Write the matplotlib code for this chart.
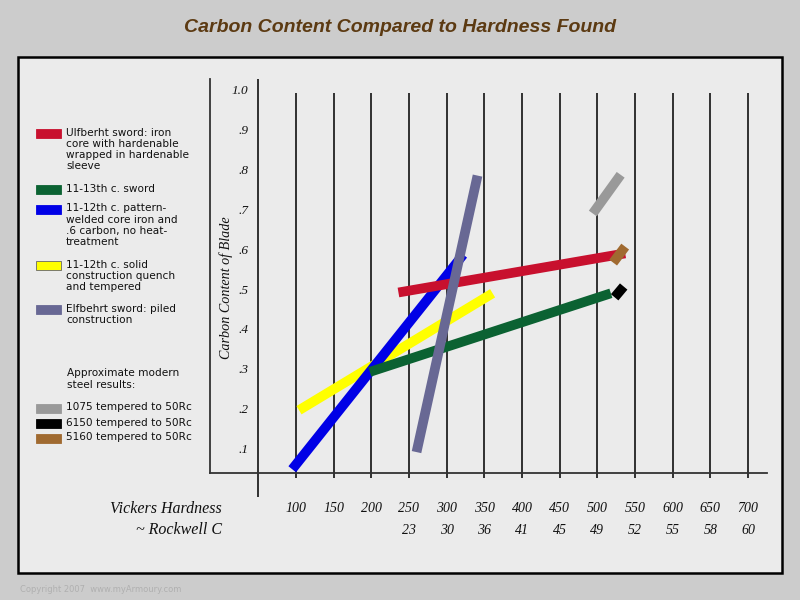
import matplotlib
matplotlib.use("Agg")
import matplotlib.pyplot as plt
from matplotlib.patches import Rectangle
from matplotlib.transforms import blended_transform_factory

# ---------------- data ----------------
vickers_ticks = [100, 150, 200, 250, 300, 350, 400, 450, 500, 550, 600, 650, 700]
rockwell_labels = ["", "", "", "23", "30", "36", "41", "45", "49", "52", "55", "58", "60"]
carbon_ticks = [0.1, 0.2, 0.3, 0.4, 0.5, 0.6, 0.7, 0.8, 0.9, 1.0]
carbon_labels = [".1", ".2", ".3", ".4", ".5", ".6", ".7", ".8", ".9", "1.0"]

series_names = [
    "Ulfberht sword: iron\ncore with hardenable\nwrapped in hardenable\nsleeve",
    "11-13th c. sword",
    "11-12th c. pattern-\nwelded core iron and\n.6 carbon, no heat-\ntreatment",
    "11-12th c. solid\nconstruction quench\nand tempered",
    "Elfbehrt sword: piled\nconstruction",
]
modern_names = ["1075 tempered to 50Rc", "6150 tempered to 50Rc", "5160 tempered to 50Rc"]

# segment endpoints (Vickers, carbon)
ulfberht_x = [236, 537]
ulfberht_y = [0.495, 0.593]
sword1113_x = [198, 518]
sword1113_y = [0.296, 0.493]
pattern_x = [95, 322]
pattern_y = [0.052, 0.590]
solid_x = [104, 361]
solid_y = [0.200, 0.493]
elfbehrt_x = [260, 341]
elfbehrt_y = [0.095, 0.788]
s1075_x = [494, 531]
s1075_y = [0.693, 0.790]
s6150_x = [523, 535]
s6150_y = [0.483, 0.510]
s5160_x = [521, 537]
s5160_y = [0.570, 0.610]

# ---------------- style ----------------
c_red = "#c8102e"
c_green = "#0b6232"
c_blue = "#0000e6"
c_yellow = "#ffff00"
c_purple = "#686894"
c_gray = "#999999"
c_black = "#000000"
c_brown = "#a06a30"

W, H = 800, 600
fig = plt.figure(figsize=(8, 6), dpi=100)
fig.patch.set_facecolor("#cccccc")

def fx(px):
    return px / W

def fy(py):
    return (H - py) / H

# panel
fig.patches.append(Rectangle((fx(18), fy(573)), fx(782) - fx(18), fy(57) - fy(573),
                             transform=fig.transFigure, facecolor="#ebebeb",
                             edgecolor="black", linewidth=1.8, zorder=-10))

# title
fig.text(0.5, fy(28), "Carbon Content Compared to Hardness Found",
         ha="center", va="center", color="#5c3a12", fontsize=14,
         fontweight="bold", fontstyle="italic",
         family=["Liberation Sans Narrow", "Liberation Sans", "DejaVu Sans"])

fig.text(fx(20), fy(589), "Copyright 2007  www.myArmoury.com", ha="left", va="center",
         color="#b0b0b0", fontsize=6, family="DejaVu Sans")

# main axes, mapped to pixel box x 210..767, y 79..473
ax = fig.add_axes([fx(210), fy(473), fx(767) - fx(210), fy(79) - fy(473)])
ax.set_facecolor("none")
ax.set_zorder(1)

def vx(px):
    return 100 + (px - 296) / 0.7533

def cy(py):
    return (490 - py) / 399.0

ax.set_xlim(vx(210), vx(767))
ax.set_ylim(cy(473), cy(79))
for s in ["top", "right"]:
    ax.spines[s].set_visible(False)
for s in ["left", "bottom"]:
    ax.spines[s].set_color("#333333")
    ax.spines[s].set_linewidth(1.3)
ax.set_xticks([])
ax.set_yticks([])

# vertical lines
ax.vlines(vickers_ticks, cy(478), cy(93), colors="#222222", linewidth=1.3, clip_on=False, zorder=1)
ax.vlines([50], cy(497), cy(79), colors="#222222", linewidth=1.3, clip_on=False, zorder=1)

# segments
lw = 7
segs = [
    (solid_x, solid_y, c_yellow),
    (pattern_x, pattern_y, c_blue),
    (sword1113_x, sword1113_y, c_green),
    (ulfberht_x, ulfberht_y, c_red),
    (elfbehrt_x, elfbehrt_y, c_purple),
    (s1075_x, s1075_y, c_gray),
    (s5160_x, s5160_y, c_brown),
    (s6150_x, s6150_y, c_black),
]
for i, (xs, ys, col) in enumerate(segs):
    ax.plot(xs, ys, color=col, linewidth=lw, solid_capstyle="butt", zorder=3 + i)

serif = ["Liberation Serif", "DejaVu Serif"]

# y tick labels
tr_y = blended_transform_factory(fig.transFigure, ax.transData)
for v, lab in zip(carbon_ticks, carbon_labels):
    ax.text(fx(248), v, lab, transform=tr_y, ha="right", va="center",
            fontsize=9.5, fontstyle="italic", family=serif, color="#111111")

fig.text(fx(226), fy(288), "Carbon Content of Blade", rotation=90, ha="center", va="center",
         fontsize=10.2, fontstyle="italic", family=serif, color="#111111")

# x tick labels
tr_x = blended_transform_factory(ax.transData, fig.transFigure)
for v, lab, rl in zip(vickers_ticks, [str(t) for t in vickers_ticks], rockwell_labels):
    ax.text(v, fy(509), lab, transform=tr_x, ha="center", va="center",
            fontsize=10, fontstyle="italic", family=serif, color="#111111")
    if rl:
        ax.text(v, fy(530), rl, transform=tr_x, ha="center", va="center",
                fontsize=10, fontstyle="italic", family=serif, color="#111111")

fig.text(fx(222), fy(509), "Vickers Hardness", ha="right", va="center",
         fontsize=11.5, fontstyle="italic", family=serif, color="#111111")
fig.text(fx(222), fy(530), "~ Rockwell C", ha="right", va="center",
         fontsize=11.5, fontstyle="italic", family=serif, color="#111111")

# legend
leg_font = dict(fontsize=7.6, family="DejaVu Sans", color="#111111", ha="left", va="top",
                linespacing=1.13)
def swatch(py, col):
    fig.patches.append(Rectangle((fx(36), fy(py + 4.5)), fx(61) - fx(36), fy(py - 4.5) - fy(py + 4.5),
                                 transform=fig.transFigure, facecolor=col,
                                 edgecolor="#666666" if col == c_yellow else col,
                                 linewidth=0.6, zorder=2))

leg_cols = [c_red, c_green, c_blue, c_yellow, c_purple]
leg_y = [133, 189, 209, 265, 309]
for name, col, py in zip(series_names, leg_cols, leg_y):
    swatch(py, col)
    fig.text(fx(66), fy(py - 5.5), name, **leg_font)

fig.text(fx(67), fy(374 - 5.5), "Approximate modern\nsteel results:", **leg_font)
for name, col, py in zip(modern_names, [c_gray, c_black, c_brown], [408, 423, 438]):
    swatch(py, col)
    fig.text(fx(66), fy(py - 5.5), name, **leg_font)

fig.savefig("out.png", dpi=100, facecolor=fig.get_facecolor())
